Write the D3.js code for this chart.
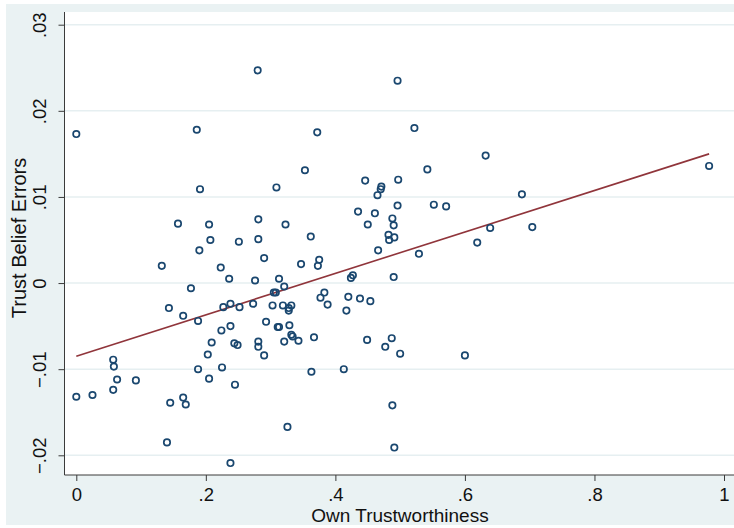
<!DOCTYPE html>
<html>
<head>
<meta charset="utf-8">
<script src="https://cdn.jsdelivr.net/npm/d3@7"></script>
<style>
  html, body { margin: 0; padding: 0; background: #ffffff; }
  svg { display: block; font-family: "Liberation Sans", Arial, sans-serif; }
</style>
</head>
<body>
<script>
'use strict';

// own trustworthiness (x) and trust belief errors (y)
const ownTrust = [
  0.000, 0.186, 0.280, 0.496, 0.372, 0.522, 0.353, 0.446, 0.497, 0.542,
  0.632, 0.977, 0.191, 0.157, 0.205, 0.207, 0.251, 0.190, 0.132, 0.223,
  0.236, 0.177, 0.143, 0.165, 0.188, 0.227, 0.238, 0.252, 0.238, 0.224,
  0.209, 0.244, 0.249, 0.000, 0.025, 0.057, 0.058, 0.063, 0.057, 0.092,
  0.145, 0.165, 0.169, 0.140, 0.188, 0.203, 0.225, 0.205, 0.245, 0.238,
  0.309, 0.471, 0.470, 0.465, 0.435, 0.461, 0.496, 0.552, 0.571, 0.488,
  0.490, 0.450, 0.281, 0.323, 0.281, 0.362, 0.482, 0.483, 0.491, 0.466,
  0.529, 0.619, 0.639, 0.290, 0.375, 0.373, 0.347, 0.276, 0.313, 0.321,
  0.427, 0.424, 0.490, 0.305, 0.308, 0.383, 0.377, 0.420, 0.438, 0.454,
  0.273, 0.303, 0.319, 0.332, 0.328, 0.328, 0.388, 0.417, 0.293, 0.311,
  0.313, 0.329, 0.332, 0.334, 0.321, 0.343, 0.367, 0.281, 0.281, 0.449,
  0.477, 0.487, 0.290, 0.500, 0.600, 0.363, 0.413, 0.488, 0.326, 0.491,
  0.688, 0.704
];

const beliefErr = [
  0.0173, 0.0178, 0.0247, 0.0235, 0.0175, 0.0180, 0.0131, 0.0119, 0.0120, 0.0132,
  0.0148, 0.0136, 0.0109, 0.0069, 0.0068, 0.0050, 0.0048, 0.0038, 0.0020, 0.0018,
  0.0005, -0.0006, -0.0029, -0.0038, -0.0044, -0.0028, -0.0024, -0.0028, -0.0050, -0.0055,
  -0.0069, -0.0070, -0.0072, -0.0132, -0.0130, -0.0089, -0.0097, -0.0112, -0.0124, -0.0113,
  -0.0139, -0.0133, -0.0141, -0.0185, -0.0100, -0.0083, -0.0098, -0.0111, -0.0118, -0.0209,
  0.0111, 0.0112, 0.0109, 0.0102, 0.0083, 0.0081, 0.0090, 0.0091, 0.0089, 0.0075,
  0.0067, 0.0068, 0.0074, 0.0068, 0.0051, 0.0054, 0.0056, 0.0050, 0.0053, 0.0038,
  0.0034, 0.0047, 0.0064, 0.0029, 0.0027, 0.0020, 0.0022, 0.0003, 0.0005, -0.0004,
  0.0009, 0.0006, 0.0007, -0.0011, -0.0011, -0.0011, -0.0017, -0.0016, -0.0018, -0.0021,
  -0.0024, -0.0026, -0.0026, -0.0026, -0.0029, -0.0032, -0.0025, -0.0032, -0.0045, -0.0051,
  -0.0051, -0.0049, -0.0060, -0.0062, -0.0068, -0.0067, -0.0063, -0.0068, -0.0074, -0.0066,
  -0.0074, -0.0064, -0.0084, -0.0082, -0.0084, -0.0103, -0.0100, -0.0142, -0.0167, -0.0191,
  0.0103, 0.0065
];

// fitted line end points
const fitX = [0, 0.977];
const fitY = [-0.0085, 0.0150];

const xTicks = [0, 0.2, 0.4, 0.6, 0.8, 1];
const xTickLabels = ["0", ".2", ".4", ".6", ".8", "1"];
const yTicks = [-0.02, -0.01, 0, 0.01, 0.02, 0.03];
const yTickLabels = ["\u2212.02", "\u2212.01", "0", ".01", ".02", ".03"];

(function() {
  const width = 734, height = 528;
  const plot = {left: 64.5, top: 12, right: 734, bottom: 475};

  const svg = d3.select('body')
    .append('svg')
    .attr('width', width)
    .attr('height', height);

  // outer light background, then white plot region
  svg.append('rect')
    .attr('x', 6).attr('y', 4)
    .attr('width', width - 6).attr('height', 521)
    .attr('fill', '#eaf2f3');

  svg.append('rect')
    .attr('x', plot.left).attr('y', plot.top)
    .attr('width', plot.right - plot.left).attr('height', plot.bottom - plot.top)
    .attr('fill', '#ffffff');

  let xScale = d3.scaleLinear().domain([0, 1]).range([76.3, 724]);
  let yScale = d3.scaleLinear().domain([-0.02, 0.03]).range([455.3, 24.7]);

  // horizontal grid lines
  svg.append('g')
    .selectAll('line')
    .data(yTicks).enter()
    .append('line')
      .attr('x1', plot.left).attr('x2', plot.right)
      .attr('y1', d => yScale(d)).attr('y2', d => yScale(d))
      .attr('stroke', '#e6eff1')
      .attr('stroke-width', 1.5);

  // y axis
  let yAxis = d3.axisLeft(yScale)
    .tickValues(yTicks)
    .tickSize(6)
    .tickPadding(0)
    .tickFormat((d, i) => yTickLabels[i]);

  let gy = svg.append('g')
    .attr('transform', 'translate(' + plot.left + ',0)')
    .call(yAxis);
  gy.select('.domain')
    .attr('d', 'M0,' + plot.top + 'V' + plot.bottom)
    .attr('stroke', '#3a3a3a');
  gy.selectAll('.tick line').attr('stroke', '#3a3a3a');
  gy.selectAll('.tick text')
    .attr('x', 0).attr('dy', null)
    .attr('transform', 'translate(-18.5,0)rotate(-90)')
    .attr('text-anchor', 'middle')
    .style('font-size', '18.5px')
    .attr('fill', '#111');

  // x axis
  let xAxis = d3.axisBottom(xScale)
    .tickValues(xTicks)
    .tickSize(6)
    .tickPadding(3)
    .tickFormat((d, i) => xTickLabels[i]);

  let gx = svg.append('g')
    .attr('transform', 'translate(0,' + plot.bottom + ')')
    .call(xAxis);
  gx.select('.domain')
    .attr('d', 'M' + plot.left + ',0H' + plot.right)
    .attr('stroke', '#3a3a3a');
  gx.selectAll('.tick line').attr('stroke', '#3a3a3a');
  gx.selectAll('.tick text')
    .attr('dy', null)
    .attr('y', 26)
    .style('font-size', '18.5px')
    .attr('fill', '#111');

  svg.selectAll('.domain').attr('fill', 'none');
  svg.selectAll('g').attr('font-family', null).attr('font-size', null);

  // fitted line
  let line = d3.line()
    .x(d => xScale(d[0]))
    .y(d => yScale(d[1]));

  svg.append('path')
    .datum(d3.zip(fitX, fitY))
    .attr('fill', 'none')
    .attr('stroke', '#90353b')
    .attr('stroke-width', 1.6)
    .attr('d', line);

  // hollow circle markers
  svg.append('g')
    .selectAll('circle')
    .data(d3.zip(ownTrust, beliefErr)).enter()
    .append('circle')
      .attr('cx', d => xScale(d[0]))
      .attr('cy', d => yScale(d[1]))
      .attr('r', 3.2)
      .attr('fill', 'none')
      .attr('stroke', '#1a476f')
      .attr('stroke-width', 1.7);

  // axis titles
  svg.append('text')
    .attr('x', 400)
    .attr('y', 521.5)
    .attr('text-anchor', 'middle')
    .style('font-size', '19px')
    .attr('fill', '#111')
    .text('Own Trustworthiness');

  svg.append('text')
    .attr('transform', 'translate(26,238)rotate(-90)')
    .attr('text-anchor', 'middle')
    .style('font-size', '20px')
    .attr('fill', '#111')
    .text('Trust Belief Errors');
})();
</script>
</body>
</html>
